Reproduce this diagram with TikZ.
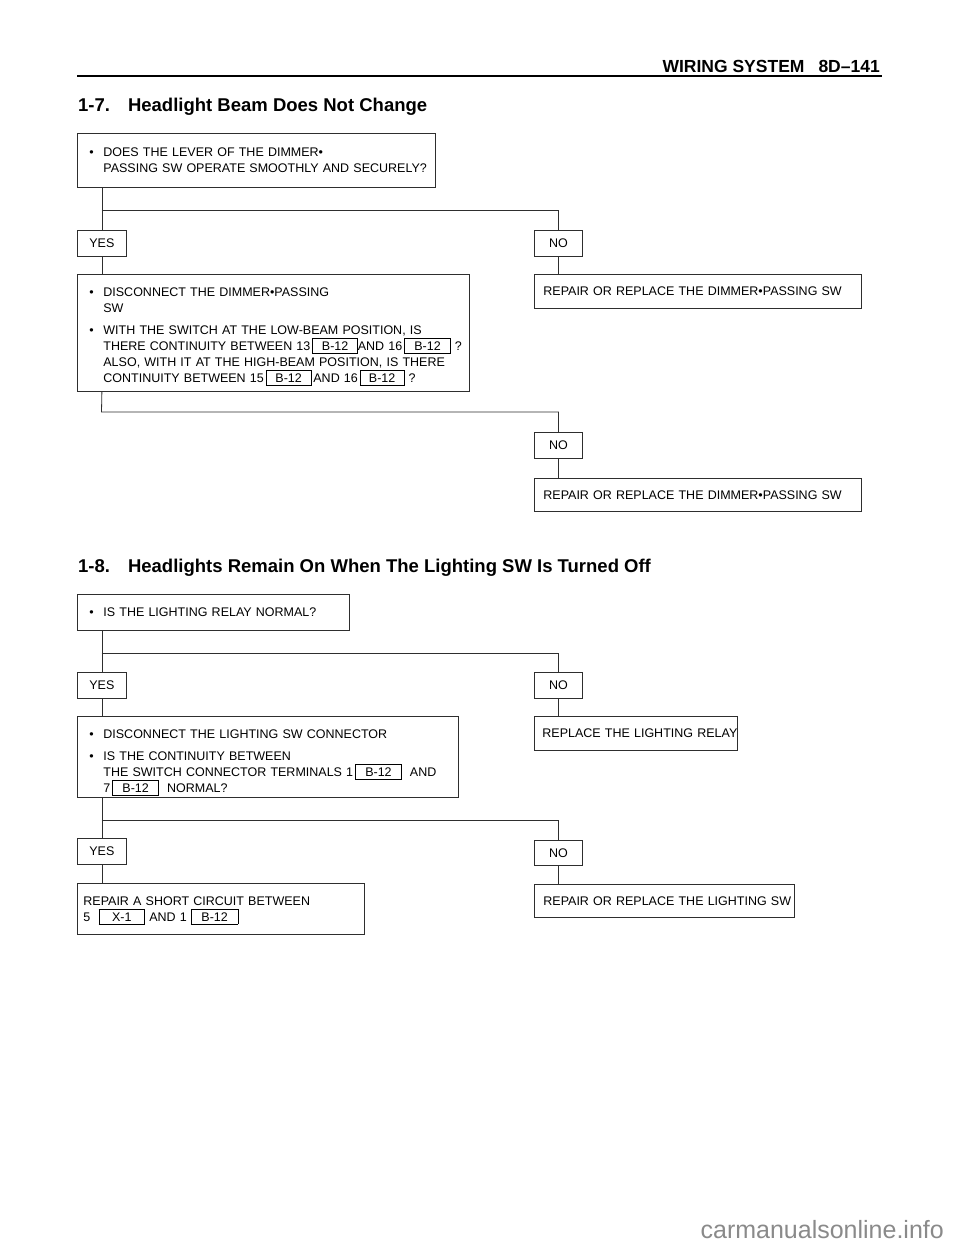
\documentclass[tikz,border=0pt]{standalone}
\usepackage{fontspec}
\setmainfont{Liberation Sans}
\definecolor{ln}{HTML}{2E2E2E}
\definecolor{wm}{HTML}{8A8A8A}
\newcommand\tg[2][44pt]{\smash{\setlength\fboxsep{0pt}\setlength\fboxrule{0.7pt}\fbox{\makebox[#1]{\rule[-2.5pt]{0pt}{14.5pt}#2}}}}
\newcommand\bl{\makebox[14pt][l]{•}}
\newcommand\ind{\hspace*{14pt}}
\newcommand\oneline[1]{\mbox{#1}}
\tikzset{
  basefont/.style={font=\fontsize{12.5}{16}\selectfont},
  box/.style={draw=ln, line width=0.8pt, anchor=north west, inner xsep=12pt, inner ysep=0pt, align=left, basefont},
  res/.style={draw=ln, line width=0.8pt, anchor=north west, inner xsep=9pt, inner ysep=0pt, align=left, basefont},
  ans/.style={draw=ln, line width=0.8pt, anchor=north west, minimum width=49pt, minimum height=26pt, inner sep=0pt, basefont},
  wire/.style={draw=ln, line width=0.8pt},
}
\begin{document}
\begin{tikzpicture}[x=1pt,y=-1pt]
\useasboundingbox (0,0) rectangle (960,1250);
\fill[white] (0,0) rectangle (960,1250);

% header
\node[anchor=base east, inner sep=0pt, font=\fontsize{17.5}{20}\selectfont\bfseries] (hdr) at (880,72) {WIRING SYSTEM\hspace{14pt}8D–141};
\coordinate (rl) at (77,76);
\coordinate (rr) at (882,76);
\draw[line width=1.8pt] (rl) -- (rr);

% section 1-7
\node[anchor=base west, inner sep=0pt, font=\fontsize{18.5}{22}\selectfont\bfseries] (t1) at (78,111) {1-7.\hspace{18pt}Headlight Beam Does Not Change};

\node[box, text width=334pt, minimum height=54pt] (q1) at (77,133)
  {\oneline{\bl DOES THE LEVER OF THE DIMMER•}\\\oneline{\ind PASSING SW OPERATE SMOOTHLY AND SECURELY?}};
\node[ans] (y1) at (77,230) {YES};
\node[ans, minimum width=48pt] (n1) at (534,230) {NO};
\node[box, text width=368pt, minimum height=117pt] (q2) at (77,274)
  {\oneline{\rule{0pt}{14pt}\bl DISCONNECT THE DIMMER•PASSING}\\\oneline{\ind SW}\\[6pt]
   \oneline{\bl WITH THE SWITCH AT THE LOW-BEAM POSITION, IS}\\
   \oneline{\ind THERE CONTINUITY BETWEEN 13\,\tg{B-12}AND 16\,\tg[45pt]{B-12}\ ?}\\
   \oneline{\ind ALSO, WITH IT AT THE HIGH-BEAM POSITION, IS THERE}\\
   \oneline{\ind CONTINUITY BETWEEN 15\,\tg{B-12}\,AND 16\,\tg[43pt]{B-12}\ ?}};
\node[res, text width=309pt, minimum height=34pt] (r1) at (534,274)
  {\oneline{REPAIR OR REPLACE THE DIMMER•PASSING SW}};
\node[ans, minimum width=48pt] (n2) at (534,432) {NO};
\node[res, text width=309pt, minimum height=33pt] (r2) at (534,478)
  {\oneline{REPAIR OR REPLACE THE DIMMER•PASSING SW}};

\coordinate (j1) at (101.5,210);
\coordinate (j2) at (101.5,412);
\draw[wire] (q1.south -| y1.north) -- (y1.north);
\draw[wire] (j1) -| (n1.north);
\draw[wire] (y1.south) -- (y1.south |- q2.north);
\draw[wire] (n1.south) -- (n1.south |- r1.north);
\draw[wire] (q2.south -| y1.south) -- (j2) -| (n2.north);
\draw[wire] (n2.south) -- (n2.south |- r2.north);

% section 1-8
\node[anchor=base west, inner sep=0pt, font=\fontsize{18.5}{22}\selectfont\bfseries] (t2) at (78,572) {1-8.\hspace{18pt}Headlights Remain On When The Lighting SW Is Turned Off};

\node[box, text width=248pt, minimum height=36pt] (q3) at (77,594)
  {\oneline{\bl IS THE LIGHTING RELAY NORMAL?}};
\node[ans] (y3) at (77,672) {YES};
\node[ans, minimum width=48pt] (n3) at (534,672) {NO};
\node[box, text width=357pt, minimum height=81pt] (q4) at (77,716)
  {\oneline{\rule{0pt}{17pt}\bl DISCONNECT THE LIGHTING SW CONNECTOR}\\[6pt]
   \oneline{\bl IS THE CONTINUITY BETWEEN}\\
   \oneline{\ind THE SWITCH CONNECTOR TERMINALS 1\,\tg[45pt]{B-12}\ \ AND}\\
   \oneline{\ind 7\,\tg[45pt]{B-12}\ \ NORMAL?}};
\node[res, inner xsep=8pt, text width=187pt, minimum height=34pt] (r3) at (534,716)
  {\oneline{REPLACE THE LIGHTING RELAY}};
\node[ans] (y4) at (77,838) {YES};
\node[ans, minimum width=48pt, minimum height=25pt] (n4) at (534,840) {NO};
\node[res, inner xsep=6pt, text width=275pt, minimum height=51pt] (q5) at (77,883)
  {\oneline{REPAIR A SHORT CIRCUIT BETWEEN}\\
   \oneline{5\ \ \tg[45pt]{X-1}\ AND 1\ \tg[46pt]{B-12}}};
\node[res, text width=242pt, minimum height=33pt] (r4) at (534,884)
  {\oneline{REPAIR OR REPLACE THE LIGHTING SW}};

\coordinate (j3) at (101.5,653);
\coordinate (j4) at (101.5,820);
\draw[wire] (q3.south -| y3.north) -- (y3.north);
\draw[wire] (j3) -| (n3.north);
\draw[wire] (y3.south) -- (y3.south |- q4.north);
\draw[wire] (n3.south) -- (n3.south |- r3.north);
\draw[wire] (q4.south -| y4.north) -- (y4.north);
\draw[wire] (j4) -| (n4.north);
\draw[wire] (y4.south) -- (y4.south |- q5.north);
\draw[wire] (n4.south) -- (n4.south |- r4.north);

% watermark
\node[anchor=base east, inner sep=0pt, text=wm, font=\fontsize{25}{28}\selectfont] (wmk) at (944,1238) {carmanualsonline.info};
\end{tikzpicture}
\end{document}
